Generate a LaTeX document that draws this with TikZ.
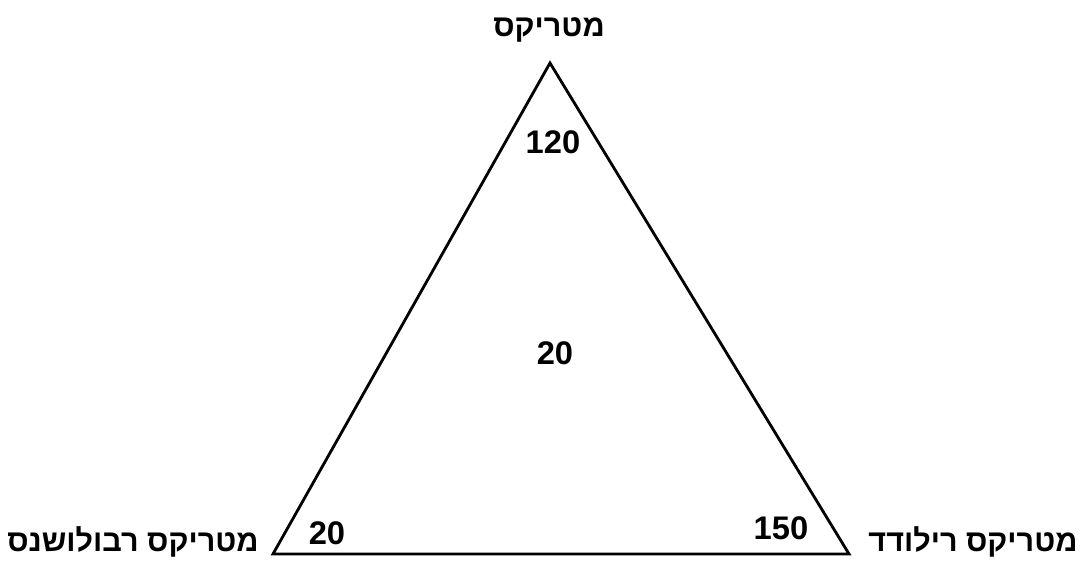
\documentclass[tikz,border=0pt]{standalone}
\usepackage{fontspec}
\setmainfont{Liberation Sans}
\newfontfamily\hebfont[Script=Hebrew]{Liberation Sans}
\TeXXeTstate=1
\begin{document}
\begin{tikzpicture}[lbl/.style={font=\hebfont\bfseries\fontsize{8.7}{10}\selectfont, inner sep=0pt},
  num/.style={font=\bfseries\fontsize{9.3}{11}\selectfont, inner sep=0pt}]
  \useasboundingbox (0,0) rectangle (10.82,5.63);
  \coordinate (T) at (5.50, 5.00);
  \coordinate (L) at (2.73, 0.09);
  \coordinate (R) at (8.49, 0.09);
  \draw[line width=0.8pt, line join=miter] (T) -- (L) -- (R) -- cycle;
  \node[lbl] (TL) at (5.49, 5.33) {\beginR מטריקס\endR};
  \node[lbl] (LL) at (1.33, 0.21) {\beginR מטריקס רבולושנס\endR};
  \node[lbl] (RL) at (9.73, 0.21) {\beginR מטריקס רילודד\endR};
  \node[num] (TN) at (5.53, 4.21) {120};
  \node[num] (CN) at (5.55, 2.10) {20};
  \node[num] (LN) at (3.27, 0.30) {20};
  \node[num] (RN) at (7.81, 0.35) {150};
\end{tikzpicture}
\end{document}
